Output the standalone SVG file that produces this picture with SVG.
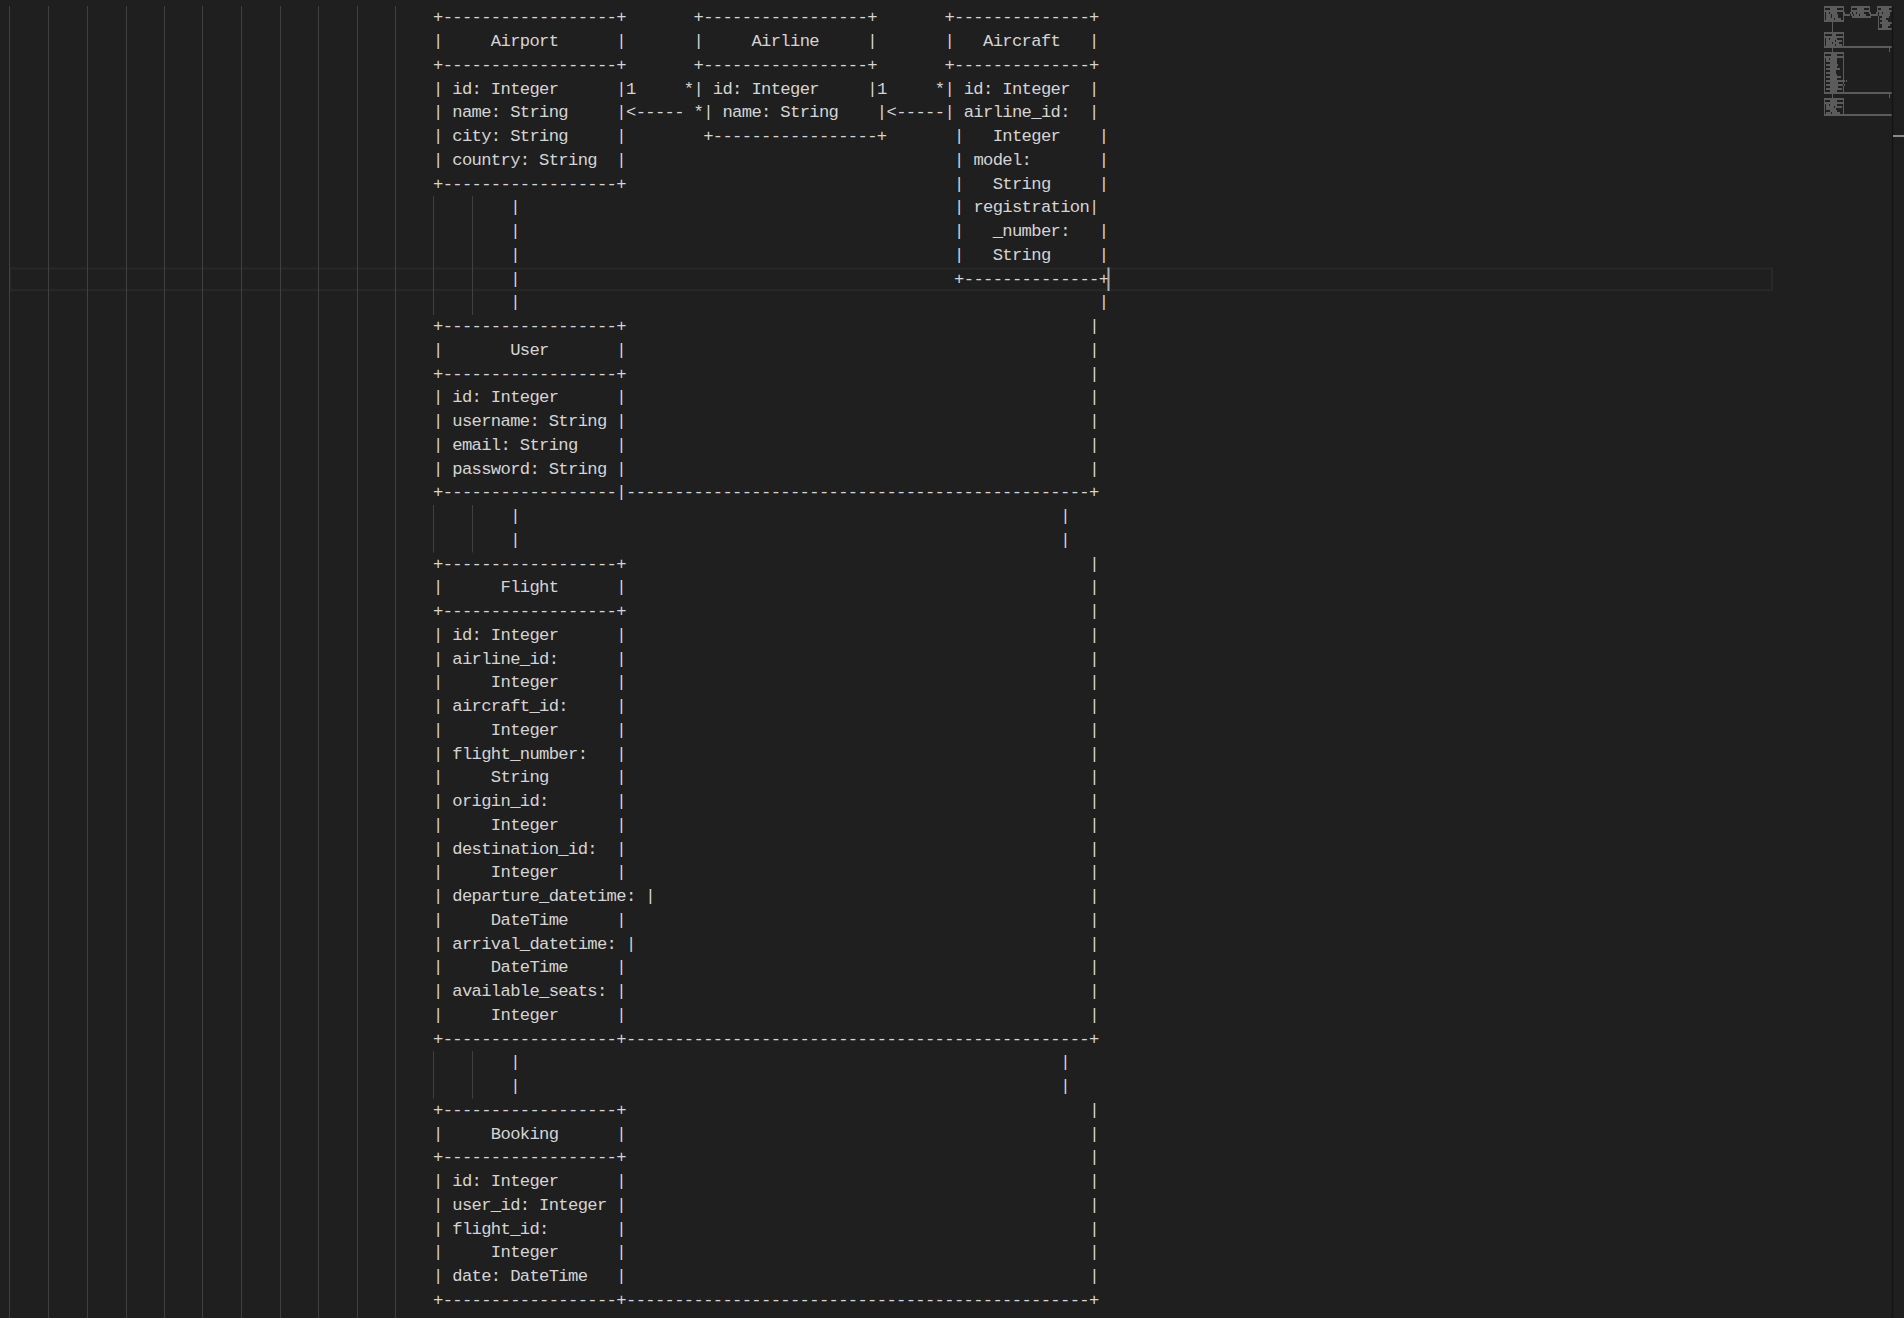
<svg xmlns="http://www.w3.org/2000/svg" width="1904" height="1318" viewBox="0 0 1904 1318">
<style>
.t{font-family:"Liberation Mono","DejaVu Sans Mono",monospace;font-size:17.2px;letter-spacing:-0.67px;fill:#d4d4d4;white-space:pre}
.g{stroke:#404040;stroke-width:1}
.mm{fill:none;stroke:#cccccc;stroke-opacity:0.35;stroke-width:2}
</style>
<rect width="1904" height="1318" fill="#1f1f1f"/>
<rect x="10" y="268.45" width="1762" height="21.75" fill="none" stroke="#282828" stroke-width="2"/>
<g id="indent-guides">
<path class="g" d="M9.5 6V1318M48.5 6V1318M87.5 6V1318M126.5 6V1318M164.5 6V1318M202.5 6V1318M241.5 6V1318M280.5 6V1318M318.5 6V1318M357.5 6V1318M395.5 6V1318"/>
<path class="g" d="M433.5 196.2V315M472.5 196.2V315M433.5 505V552.5M472.5 505V552.5M433.5 1051.2V1098.7M472.5 1051.2V1098.7"/>
</g>
<g transform="translate(0,-1)">
<g id="airport">
<text class="t" x="433" y="23.4">+------------------+</text>
<text class="t" x="433" y="47.15">|     Airport      |</text>
<text class="t" x="433" y="70.9">+------------------+</text>
<text class="t" x="433" y="94.65">| id: Integer      |</text>
<text class="t" x="433" y="118.4">| name: String     |</text>
<text class="t" x="433" y="142.15">| city: String     |</text>
<text class="t" x="433" y="165.9">| country: String  |</text>
<text class="t" x="433" y="189.65">+------------------+</text>
</g>
<g id="airline">
<text class="t" x="693.55" y="23.4">+-----------------+</text>
<text class="t" x="693.55" y="47.15">|     Airline     |</text>
<text class="t" x="693.55" y="70.9">+-----------------+</text>
<text class="t" x="693.55" y="94.65">| id: Integer     |</text>
<text class="t" x="703.2" y="118.4">| name: String    |</text>
<text class="t" x="703.2" y="142.15">+-----------------+</text>
</g>
<g id="aircraft">
<text class="t" x="944.45" y="23.4">+--------------+</text>
<text class="t" x="944.45" y="47.15">|   Aircraft   |</text>
<text class="t" x="944.45" y="70.9">+--------------+</text>
<text class="t" x="944.45" y="94.65">| id: Integer  |</text>
<text class="t" x="944.45" y="118.4">| airline_id:  |</text>
<text class="t" x="954.1" y="142.15">|   Integer    |</text>
<text class="t" x="954.1" y="165.9">| model:       |</text>
<text class="t" x="954.1" y="189.65">|   String     |</text>
<text class="t" x="954.1" y="213.4">| registration|</text>
<text class="t" x="954.1" y="237.15">|   _number:   |</text>
<text class="t" x="954.1" y="260.9">|   String     |</text>
<text class="t" x="954.1" y="284.65">+--------------+</text>
</g>
<g id="user">
<text class="t" x="433" y="332.15">+------------------+</text>
<text class="t" x="433" y="355.9">|       User       |</text>
<text class="t" x="433" y="379.65">+------------------+</text>
<text class="t" x="433" y="403.4">| id: Integer      |</text>
<text class="t" x="433" y="427.15">| username: String |</text>
<text class="t" x="433" y="450.9">| email: String    |</text>
<text class="t" x="433" y="474.65">| password: String |</text>
<text class="t" x="433" y="498.4">+------------------|</text>
</g>
<g id="flight">
<text class="t" x="433" y="569.65">+------------------+</text>
<text class="t" x="433" y="593.4">|      Flight      |</text>
<text class="t" x="433" y="617.15">+------------------+</text>
<text class="t" x="433" y="640.9">| id: Integer      |</text>
<text class="t" x="433" y="664.65">| airline_id:      |</text>
<text class="t" x="433" y="688.4">|     Integer      |</text>
<text class="t" x="433" y="712.15">| aircraft_id:     |</text>
<text class="t" x="433" y="735.9">|     Integer      |</text>
<text class="t" x="433" y="759.65">| flight_number:   |</text>
<text class="t" x="433" y="783.4">|     String       |</text>
<text class="t" x="433" y="807.15">| origin_id:       |</text>
<text class="t" x="433" y="830.9">|     Integer      |</text>
<text class="t" x="433" y="854.65">| destination_id:  |</text>
<text class="t" x="433" y="878.4">|     Integer      |</text>
<text class="t" x="433" y="902.15">| departure_datetime: |</text>
<text class="t" x="433" y="925.9">|     DateTime     |</text>
<text class="t" x="433" y="949.65">| arrival_datetime: |</text>
<text class="t" x="433" y="973.4">|     DateTime     |</text>
<text class="t" x="433" y="997.15">| available_seats: |</text>
<text class="t" x="433" y="1020.9">|     Integer      |</text>
<text class="t" x="433" y="1044.65">+------------------+</text>
</g>
<g id="booking">
<text class="t" x="433" y="1115.9">+------------------+</text>
<text class="t" x="433" y="1139.65">|     Booking      |</text>
<text class="t" x="433" y="1163.4">+------------------+</text>
<text class="t" x="433" y="1187.15">| id: Integer      |</text>
<text class="t" x="433" y="1210.9">| user_id: Integer |</text>
<text class="t" x="433" y="1234.65">| flight_id:       |</text>
<text class="t" x="433" y="1258.4">|     Integer      |</text>
<text class="t" x="433" y="1282.15">| date: DateTime   |</text>
<text class="t" x="433" y="1305.9">+------------------+</text>
</g>
<g id="connectors">
<text class="t" x="626" y="94.65">1     *</text>
<text class="t" x="626" y="118.4">&lt;----- *</text>
<text class="t" x="876.9" y="94.65">1     *</text>
<text class="t" x="886.55" y="118.4">&lt;-----</text>
<text class="t"><tspan x="510.2" y="213.4">|</tspan><tspan x="510.2" y="237.15">|</tspan><tspan x="510.2" y="260.9">|</tspan><tspan x="510.2" y="284.65">|</tspan><tspan x="510.2" y="308.4">|</tspan></text>
<text class="t"><tspan x="1098.85" y="308.4">|</tspan></text>
<text class="t"><tspan x="1089.2" y="332.15">|</tspan><tspan x="1089.2" y="355.9">|</tspan><tspan x="1089.2" y="379.65">|</tspan><tspan x="1089.2" y="403.4">|</tspan><tspan x="1089.2" y="427.15">|</tspan><tspan x="1089.2" y="450.9">|</tspan><tspan x="1089.2" y="474.65">|</tspan></text>
<text class="t" x="626" y="498.4">------------------------------------------------+</text>
<text class="t"><tspan x="510.2" y="522.15">|</tspan><tspan x="510.2" y="545.9">|</tspan><tspan x="1060.25" y="522.15">|</tspan><tspan x="1060.25" y="545.9">|</tspan></text>
<text class="t"><tspan x="1089.2" y="569.65">|</tspan><tspan x="1089.2" y="593.4">|</tspan><tspan x="1089.2" y="617.15">|</tspan><tspan x="1089.2" y="640.9">|</tspan><tspan x="1089.2" y="664.65">|</tspan><tspan x="1089.2" y="688.4">|</tspan><tspan x="1089.2" y="712.15">|</tspan><tspan x="1089.2" y="735.9">|</tspan><tspan x="1089.2" y="759.65">|</tspan><tspan x="1089.2" y="783.4">|</tspan><tspan x="1089.2" y="807.15">|</tspan><tspan x="1089.2" y="830.9">|</tspan><tspan x="1089.2" y="854.65">|</tspan><tspan x="1089.2" y="878.4">|</tspan><tspan x="1089.2" y="902.15">|</tspan><tspan x="1089.2" y="925.9">|</tspan><tspan x="1089.2" y="949.65">|</tspan><tspan x="1089.2" y="973.4">|</tspan><tspan x="1089.2" y="997.15">|</tspan><tspan x="1089.2" y="1020.9">|</tspan></text>
<text class="t" x="626" y="1044.65">------------------------------------------------+</text>
<text class="t"><tspan x="510.2" y="1068.4">|</tspan><tspan x="510.2" y="1092.15">|</tspan><tspan x="1060.25" y="1068.4">|</tspan><tspan x="1060.25" y="1092.15">|</tspan></text>
<text class="t"><tspan x="1089.2" y="1115.9">|</tspan><tspan x="1089.2" y="1139.65">|</tspan><tspan x="1089.2" y="1163.4">|</tspan><tspan x="1089.2" y="1187.15">|</tspan><tspan x="1089.2" y="1210.9">|</tspan><tspan x="1089.2" y="1234.65">|</tspan><tspan x="1089.2" y="1258.4">|</tspan><tspan x="1089.2" y="1282.15">|</tspan></text>
<text class="t" x="626" y="1305.9">------------------------------------------------+</text>
</g>
</g>
<rect x="1107.5" y="267.5" width="2" height="23.5" fill="#aeafad"/>
<g id="minimap">
<path class="mm" d="M1824 7h20M1851 7h19M1877 7h15M1824 9h1M1830 9h7M1843 9h1M1851 9h1M1857 9h7M1869 9h1M1877 9h1M1881 9h8M1824 11h20M1851 11h19M1877 11h15M1824 13h1M1826 13h3M1830 13h7M1843 13h2M1850 13h2M1853 13h3M1857 13h7M1869 13h2M1876 13h2M1879 13h3M1883 13h7M1824 15h1M1826 15h5M1832 15h6M1843 15h7M1851 15h2M1854 15h5M1860 15h6M1870 15h8M1879 15h11M1824 17h1M1826 17h5M1832 17h6M1843 17h1M1852 17h19M1878 17h1M1882 17h7M1824 19h1M1826 19h8M1835 19h6M1843 19h1M1878 19h1M1880 19h6M1824 21h20M1878 21h1M1882 21h6M1832 23h1M1878 23h1M1880 23h12M1832 25h1M1878 25h1M1882 25h8M1832 27h1M1878 27h1M1882 27h6M1832 29h1M1878 29h14M1832 31h1M1824 33h20M1824 35h1M1832 35h4M1843 35h1M1824 37h20M1824 39h1M1826 39h3M1830 39h7M1843 39h1M1824 41h1M1826 41h9M1836 41h6M1843 41h1M1824 43h1M1826 43h6M1833 43h6M1843 43h1M1824 45h1M1826 45h9M1836 45h6M1843 45h1M1824 47h68M1832 49h1M1889 49h1M1832 51h1M1889 51h1M1824 53h20M1824 55h1M1831 55h6M1843 55h1M1824 57h20M1824 59h1M1826 59h3M1830 59h7M1843 59h1M1824 61h1M1826 61h11M1843 61h1M1824 63h1M1830 63h7M1843 63h1M1824 65h1M1826 65h12M1843 65h1M1824 67h1M1830 67h7M1843 67h1M1824 69h1M1826 69h14M1843 69h1M1824 71h1M1830 71h6M1843 71h1M1824 73h1M1826 73h10M1843 73h1M1824 75h1M1830 75h7M1843 75h1M1824 77h1M1826 77h15M1843 77h1M1824 79h1M1830 79h7M1843 79h1M1824 81h1M1826 81h19M1846 81h1M1824 83h1M1830 83h8M1843 83h1M1824 85h1M1826 85h17M1844 85h1M1824 87h1M1830 87h8M1843 87h1M1824 89h1M1826 89h16M1843 89h1M1824 91h1M1830 91h7M1843 91h1M1824 93h68M1832 95h1M1889 95h1M1832 97h1M1889 97h1M1824 99h20M1824 101h1M1830 101h7M1843 101h1M1824 103h20M1824 105h1M1826 105h3M1830 105h7M1843 105h1M1824 107h1M1826 107h8M1835 107h7M1843 107h1M1824 109h1M1826 109h10M1843 109h1M1824 111h1M1830 111h7M1843 111h1M1824 113h1M1826 113h5M1832 113h8M1843 113h1M1824 115h68"/>
</g>
<path d="M1892.5 6V1318" stroke="#141414" stroke-width="1.5"/>
<rect x="1893" y="135" width="11" height="2" fill="#8a8a8a"/>
</svg>
